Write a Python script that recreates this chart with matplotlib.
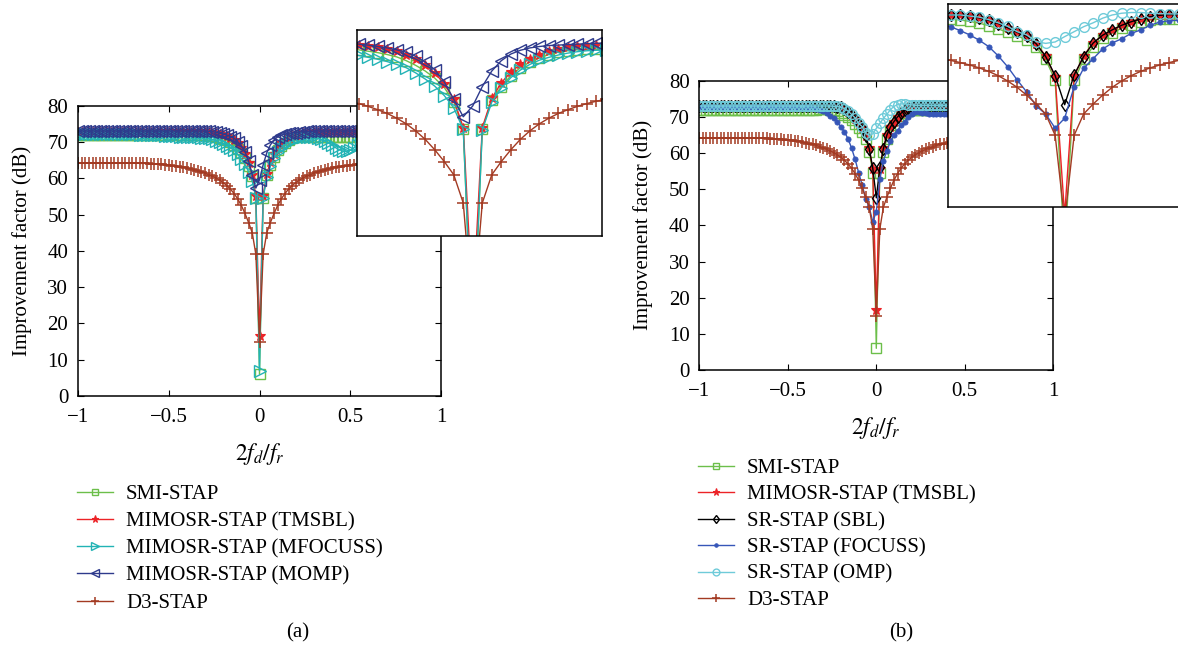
import numpy as np
import matplotlib
matplotlib.use("Agg")
import matplotlib.pyplot as plt

plt.rcParams['font.family'] = ['Liberation Serif', 'DejaVu Serif']
plt.rcParams['mathtext.fontset'] = 'stix'

# x grid: normalized Doppler 2fd/fr
x = np.linspace(-1, 1, 101)

d3 = [
    64.2, 64.2, 64.2, 64.2, 64.2, 64.2, 64.2, 64.2, 64.2, 64.2,
    64.2, 64.2, 64.2, 64.2, 64.2, 64.2, 64.2, 64.1, 64.1, 64.1,
    64.0, 64.0, 63.9, 63.8, 63.7, 63.6, 63.5, 63.4, 63.2, 63.0,
    62.8, 62.6, 62.4, 62.1, 61.8, 61.4, 61.0, 60.6, 60.1, 59.5,
    58.8, 58.0, 57.0, 55.8, 54.3, 52.5, 50.3, 47.8, 45.0, 39.0,
    15.0,
    39.0, 45.0, 47.8, 50.3, 52.5, 54.3, 55.8, 57.0, 58.0, 58.8,
    59.5, 60.1, 60.6, 61.0, 61.4, 61.8, 62.1, 62.4, 62.6, 62.8,
    63.0, 63.2, 63.4, 63.5, 63.6, 63.7, 63.8, 63.9, 64.0, 64.0,
    64.1, 64.1, 64.1, 64.2, 64.2, 64.2, 64.2, 64.2, 64.2, 64.2,
    64.2, 64.2, 64.2, 64.2, 64.2, 64.2, 64.2, 64.2, 64.2, 64.2]

smi_a = [72.0] * 30 + [
    71.9, 71.9, 71.9, 71.8, 71.8, 71.8, 71.7, 71.6, 71.5, 71.2,
    70.9, 70.5, 70.0, 69.2, 68.2, 67.0, 65.5, 63.5, 60.5, 54.7,
    6.0,
    54.7, 60.8, 63.7, 66.0, 67.7, 68.9, 69.8, 70.5, 71.0, 71.3,
    71.5, 71.6, 71.6, 71.5, 71.5, 71.4, 71.4, 71.4, 71.4, 71.4,
    71.4, 71.4, 71.4, 71.4, 71.5, 71.5, 71.6, 71.7, 71.8, 71.9] + [72.0] * 20

tmsbl_a = [72.8] * 30 + [
    72.8, 72.8, 72.8, 72.8, 72.8, 72.8, 72.7, 72.6, 72.5, 72.3,
    72.0, 71.6, 71.2, 70.5, 69.6, 68.3, 66.6, 64.3, 61.0, 55.0,
    16.5,
    55.0, 61.2, 64.5, 66.8, 68.4, 69.6, 70.5, 71.2, 71.7, 72.0,
    72.2, 72.4, 72.5, 72.6, 72.7, 72.7, 72.8, 72.8, 72.8, 72.8] + [72.8] * 30

mfocuss_a = [
    72.3, 72.3, 72.3, 72.3, 72.3, 72.3, 72.3, 72.3, 72.3, 72.3,
    72.2, 72.2, 72.2, 72.1, 72.1, 72.1, 72.1, 72.0, 72.0, 72.0,
    71.9, 71.9, 71.8, 71.8, 71.7, 71.7, 71.6, 71.6, 71.5, 71.5,
    71.4, 71.4, 71.3, 71.3, 71.2, 71.2, 71.0, 70.7, 70.3, 69.9,
    69.5, 69.0, 68.4, 67.7, 66.6, 65.3, 63.8, 61.8, 59.2, 54.6,
    7.0,
    54.5, 60.4, 63.4, 65.6, 67.2, 68.4, 69.3, 69.9, 70.4, 70.8,
    71.1, 71.3, 71.4, 71.4, 71.3, 71.1, 70.7, 70.3, 69.7, 69.1,
    68.4, 67.9, 67.5, 67.4, 67.7, 68.4, 69.3, 70.1, 70.8, 71.3,
    71.6, 71.8, 71.9, 72.0, 72.0, 72.1, 72.1, 72.2, 72.2, 72.2,
    72.2, 72.2, 72.3, 72.3, 72.3, 72.3, 72.3, 72.3, 72.3, 72.3]

momp_a = [73.0] * 30 + [
    73.0, 73.0, 73.0, 73.0, 73.0, 73.0, 72.9, 72.8, 72.7, 72.5,
    72.2, 71.9, 71.5, 71.0, 70.1, 68.9, 67.3, 64.7, 61.0, 57.3,
    59.6,
    63.7, 67.0, 69.2, 70.6, 71.4, 71.9, 72.2, 72.4, 72.5, 72.6,
    72.7, 72.8, 72.9, 72.9, 73.0, 73.0, 73.0, 73.0, 73.0, 73.0] + [73.0] * 30

smi_b = [71.8] * 30 + [
    71.8, 71.8, 71.9, 72.0, 72.1, 72.1, 72.1, 72.0, 71.8, 71.5,
    71.1, 70.6, 69.9, 69.0, 68.0, 67.0, 65.9, 63.9, 60.4, 54.5,
    6.0,
    54.5, 60.4, 64.0, 66.3, 67.8, 69.2, 70.2, 71.0, 71.5, 71.8] + [71.8] * 40

tmsbl_b = [73.0] * 30 + [
    73.0, 73.0, 73.0, 73.0, 73.0, 73.0, 73.0, 72.9, 72.9, 72.8,
    72.6, 72.1, 71.4, 70.5, 69.3, 68.0, 66.9, 64.8, 61.4, 55.5,
    16.5,
    55.7, 61.4, 65.0, 67.2, 68.7, 70.0, 71.0, 71.8, 72.4, 72.8] + [73.0] * 40

sbl_b = [73.0] * 30 + [
    73.0, 73.0, 73.0, 73.0, 73.0, 73.0, 73.0, 72.9, 72.9, 72.8,
    72.6, 72.1, 71.4, 70.5, 69.3, 68.0, 66.9, 64.8, 61.2, 55.8,
    47.6,
    56.0, 61.2, 65.0, 67.2, 68.7, 70.0, 71.0, 71.8, 72.4, 72.8] + [73.0] * 40

focuss_b = [72.6] * 30 + [
    72.6, 72.6, 72.5, 72.3, 72.0, 71.6, 71.0, 70.3, 69.6, 68.5,
    67.3, 65.8, 64.0, 61.4, 58.3, 54.6, 51.2, 47.3, 45.0, 41.0,
    43.8,
    52.7, 57.9, 60.6, 63.3, 65.0, 66.2, 67.7, 68.7, 70.0, 70.9,
    71.3, 71.4, 71.2, 71.0, 70.8, 70.7, 70.7, 70.7, 70.7, 70.7] + [70.8] * 30

omp_b = [73.0] * 30 + [
    73.0, 73.0, 73.0, 73.0, 73.0, 73.0, 73.0, 73.0, 72.9, 72.9,
    72.6, 72.3, 71.6, 70.7, 69.7, 68.2, 67.3, 65.4, 64.9, 65.3,
    66.8,
    68.2, 69.6, 70.7, 72.0, 72.9, 73.4, 73.6, 73.6, 73.4, 73.3] + [73.2] * 40

labels_a = ['SMI-STAP', 'MIMOSR-STAP (TMSBL)', 'MIMOSR-STAP (MFOCUSS)',
            'MIMOSR-STAP (MOMP)', 'D3-STAP']
labels_b = ['SMI-STAP', 'MIMOSR-STAP (TMSBL)', 'SR-STAP (SBL)',
            'SR-STAP (FOCUSS)', 'SR-STAP (OMP)', 'D3-STAP']

for arr in [d3, smi_a, tmsbl_a, mfocuss_a, momp_a, smi_b, tmsbl_b, sbl_b,
            focuss_b, omp_b]:
    assert len(arr) == 101, len(arr)

GREEN = '#6cbf4a'
RED = '#ec2327'
TEAL = '#22b3b5'
NAVY = '#2e3a8c'
BROWN = '#a33a22'
BLUE = '#3656b8'
LCYAN = '#6fcbd9'

style_a = [
    dict(color=GREEN, marker='s', mfc='none', ms=6.5, mew=1.0),
    dict(color=RED, marker='*', mfc=RED, ms=7.5, mew=0.8),
    dict(color=TEAL, marker='>', mfc='none', ms=8, mew=1.0),
    dict(color=NAVY, marker='<', mfc='none', ms=8, mew=1.0),
    dict(color=BROWN, marker='+', ms=9, mew=1.1),
]
data_a = [smi_a, tmsbl_a, mfocuss_a, momp_a, d3]

style_b = [
    dict(color=GREEN, marker='s', mfc='none', ms=6.5, mew=1.0),
    dict(color=RED, marker='*', mfc=RED, ms=7.5, mew=0.8),
    dict(color='black', marker='d', mfc='none', ms=6.5, mew=1.0),
    dict(color=BLUE, marker='o', mfc=BLUE, ms=3.8, mew=0.5),
    dict(color=LCYAN, marker='o', mfc='none', ms=7, mew=1.0),
    dict(color=BROWN, marker='+', ms=9, mew=1.1),
]
data_b = [smi_b, tmsbl_b, sbl_b, focuss_b, omp_b, d3]

W, H = 1178, 648
fig = plt.figure(figsize=(W / 100, H / 100), dpi=100)


def rect(l, t, r, b):
    return [l / W, 1 - b / H, (r - l) / W, (b - t) / H]


FS = 15


def main_axes(r, data, styles, labels, leg_xy, lsp):
    ax = fig.add_axes(r)
    lines = []
    for y, st, lab in zip(data, styles, labels):
        ln, = ax.plot(x, y, lw=1.0, label=lab, **st)
        lines.append(ln)
    ax.set_xlim(-1, 1)
    ax.set_ylim(0, 80)
    ax.set_xticks([-1, -0.5, 0, 0.5, 1])
    ax.set_xticklabels(['\u22121', '\u22120.5', '0', '0.5', '1'])
    ax.set_yticks(range(0, 81, 10))
    ax.tick_params(direction='in', length=4, width=0.8, labelsize=FS,
                   top=True, right=True)
    ax.tick_params(axis='x', pad=9)
    ax.tick_params(axis='y', pad=7)
    for s in ax.spines.values():
        s.set_linewidth(1.1)
    ax.set_ylabel('Improvement factor (dB)', fontsize=FS, labelpad=11)
    ax.set_xlabel(r'$2f_d/f_r$', fontsize=FS + 2, labelpad=10)
    ax.legend(lines, labels, loc='upper left',
              bbox_to_anchor=(leg_xy[0] / W, 1 - leg_xy[1] / H),
              bbox_transform=fig.transFigure, frameon=False,
              borderpad=0, borderaxespad=0, handlelength=1.75,
              handletextpad=0.6, labelspacing=lsp, fontsize=FS,
              markerscale=0.7)
    return ax


def inset_axes(r, data, styles, xl, yl):
    ax = fig.add_axes(r)
    ax.set_facecolor('white')
    for y, st in zip(data, styles):
        ax.plot(x, y, lw=1.0, **st)
    ax.set_xlim(*xl)
    ax.set_ylim(*yl)
    ax.set_xticks([])
    ax.set_yticks([])
    for s in ax.spines.values():
        s.set_linewidth(1.1)
    return ax


ax_a = main_axes(rect(78, 105.7, 441, 396), data_a, style_a, labels_a, (77, 484.5), 0.365)
ax_b = main_axes(rect(699.3, 80.7, 1053.3, 370), data_b, style_b, labels_b, (698, 458.5), 0.33)

inset_axes(rect(356.7, 30, 601.7, 236), data_a, style_a, (-0.244, 0.271), (32.0, 75.7))
inset_axes(rect(948.3, 4, 1181, 207.3), data_b, style_b, (-0.245, 0.245), (18.7, 76.0))

fig.text(298 / W, 1 - 633 / H, '(a)', ha='center', va='center', fontsize=FS)
fig.text(901 / W, 1 - 633 / H, '(b)', ha='center', va='center', fontsize=FS)

fig.savefig('out.png', dpi=100)
